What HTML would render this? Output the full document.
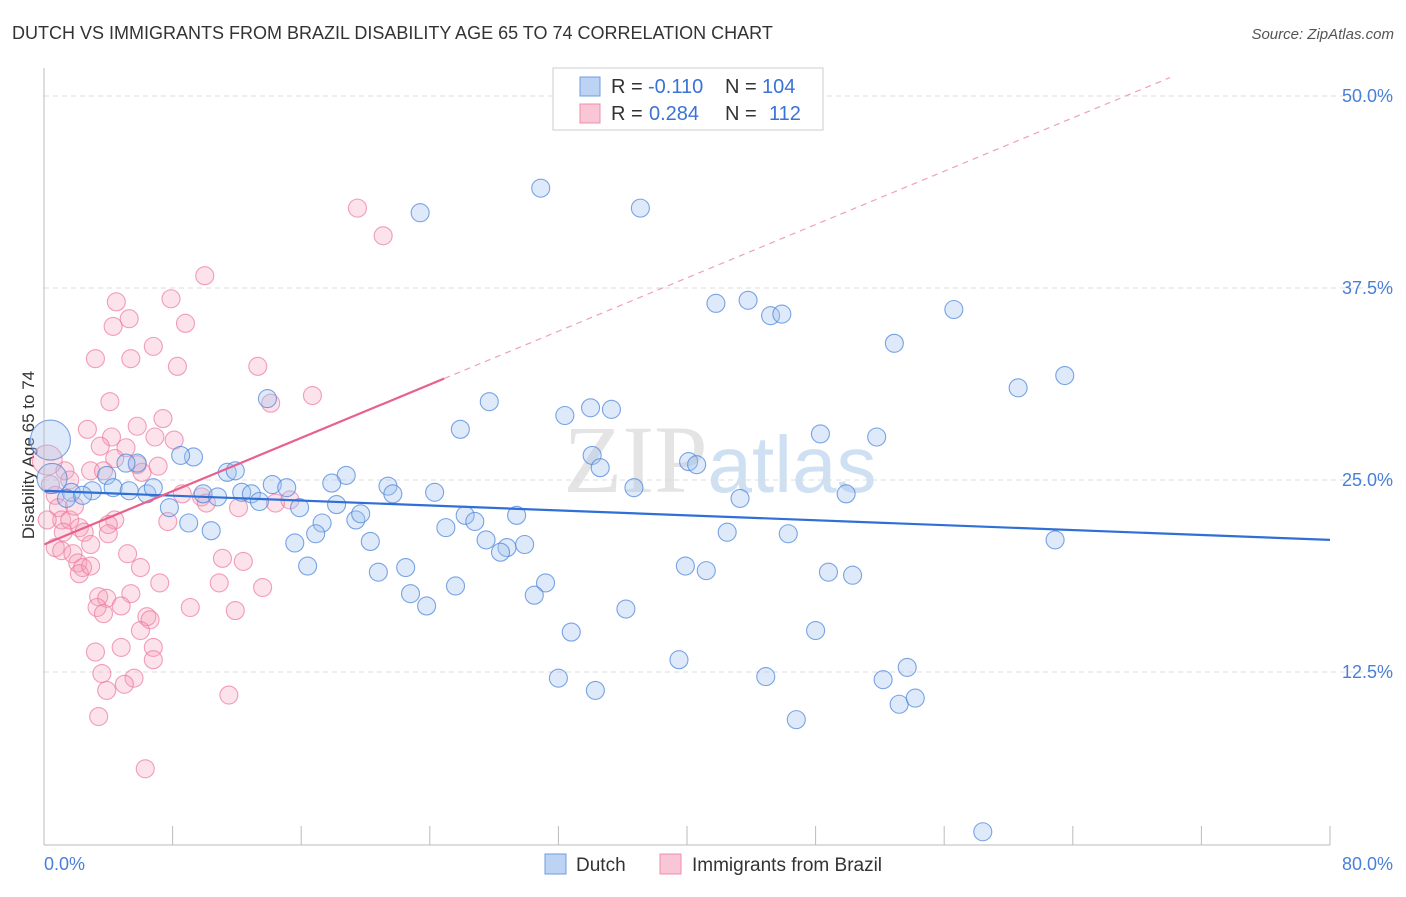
<!DOCTYPE html>
<html><head><meta charset="utf-8"><style>
body{margin:0;background:#fff;font-family:"Liberation Sans",sans-serif;}
</style></head><body>
<svg id="c" width="1406" height="892" xmlns="http://www.w3.org/2000/svg">
<text x="12" y="39" font-size="18" fill="#333">DUTCH VS IMMIGRANTS FROM BRAZIL DISABILITY AGE 65 TO 74 CORRELATION CHART</text>
<text x="1394" y="39" font-size="15" fill="#555" font-style="italic" text-anchor="end">Source: ZipAtlas.com</text>
<text x="720" y="492" font-size="96" fill="#e4e4e4" text-anchor="middle" font-family="Liberation Serif">ZIP<tspan fill="#cfe0f3" font-family="Liberation Sans" font-size="80">atlas</tspan></text>
<text transform="translate(34,455) rotate(-90)" font-size="17" fill="#333" text-anchor="middle">Disability Age 65 to 74</text>
<g id="grid"></g><g id="pts"></g><g id="trend"></g>
<line x1="44" y1="68" x2="44" y2="845" stroke="#bbb"/>
<line x1="44" y1="845" x2="1330" y2="845" stroke="#bbb"/>
<text x="44" y="870" font-size="18" fill="#4a7fd8">0.0%</text>
<text x="1393" y="870" font-size="18" fill="#4a7fd8" text-anchor="end">80.0%</text>
<g>
<rect x="553" y="68" width="270" height="62" fill="#fff" stroke="#ccc"/>
<rect x="580" y="77" width="20" height="19" fill="#bcd3f3" stroke="#6b9ee6"/>
<rect x="580" y="104" width="20" height="19" fill="#f9c6d5" stroke="#ee8fae"/>
<text x="611" y="93" font-size="20" fill="#333">R =</text>
<text x="648" y="93" font-size="20" fill="#3a73d6">-0.110</text>
<text x="725" y="93" font-size="20" fill="#333">N =</text>
<text x="762" y="93" font-size="20" fill="#3a73d6">104</text>
<text x="611" y="120" font-size="20" fill="#333">R =</text>
<text x="649" y="120" font-size="20" fill="#3a73d6">0.284</text>
<text x="725" y="120" font-size="20" fill="#333">N =</text>
<text x="769" y="120" font-size="20" fill="#3a73d6">112</text>
</g>
<g>
<rect x="545" y="854" width="21" height="20" fill="#bcd3f3" stroke="#6b9ee6"/>
<text x="576" y="871" font-size="19" fill="#333">Dutch</text>
<rect x="660" y="854" width="21" height="20" fill="#f9c6d5" stroke="#ee8fae"/>
<text x="692" y="871" font-size="19" fill="#333">Immigrants from Brazil</text>
</g>
</svg>
<script>
const yTicks=[12.5,25,37.5,50];
const yTickLabels=["12.5%","25.0%","37.5%","50.0%"];
const xTicks=[0,8,16,24,32,40,48,56,64,72,80];
const dutchX=[30.9,23.4,37.1,41.8,43.8,45.2,45.9,56.6,52.9,63.5,60.6,13.9,27.7,34.0,35.3,32.4,25.9,48.3,51.8,9.3,8.5,34.1,34.6,40.1,40.6,36.7,43.3,49.9,5.8,5.1,11.4,11.9,18.8,17.9,14.2,15.1,21.4,21.7,24.3,3.9,4.3,5.3,6.4,6.8,1.7,1.4,3.0,2.4,9.9,10.8,12.3,12.9,13.4,15.9,18.2,7.8,9.0,10.4,17.3,16.9,19.4,19.7,26.2,26.8,29.4,25.0,27.5,28.8,28.4,29.9,42.5,46.3,62.9,15.6,20.3,16.4,20.8,22.5,31.2,30.5,25.6,22.8,23.8,36.2,39.9,41.2,48.8,50.3,32.8,48.0,39.5,53.7,32.0,34.3,44.9,52.2,53.2,54.2,46.8,58.4,0.4,0.5];
const dutchY=[44.0,42.4,42.7,36.5,36.7,35.7,35.8,36.1,33.9,31.8,31.0,30.3,30.1,29.7,29.6,29.2,28.3,28.0,27.8,26.5,26.6,26.6,25.8,26.2,26.0,24.5,23.8,24.1,26.1,26.1,25.5,25.6,25.3,24.8,24.7,24.5,24.6,24.1,24.2,25.3,24.5,24.3,24.1,24.5,24.2,23.8,24.3,24.0,24.1,23.9,24.2,24.1,23.6,23.2,23.4,23.2,22.2,21.7,22.2,21.5,22.4,22.8,22.7,22.3,22.7,21.9,21.1,20.6,20.3,20.8,21.6,21.5,21.1,20.9,21.0,19.4,19.0,19.3,18.3,17.5,18.1,17.6,16.8,16.6,19.4,19.1,19.0,18.8,15.1,15.2,13.3,12.8,12.1,11.3,12.2,12.0,10.4,10.8,9.4,2.1,27.6,25.1];
const dutchR=dutchX.map((v,i)=>i>=dutchX.length-2?(i===dutchX.length-2?20:15):9);
const brazilX=[19.5,21.1,10.0,4.5,7.9,8.8,5.3,4.3,6.8,3.2,5.4,13.3,8.3,16.7,14.1,4.1,7.4,5.8,2.7,6.9,8.1,4.2,3.5,5.1,4.4,5.8,7.1,6.1,2.9,3.7,8.6,9.8,10.1,12.1,14.4,15.3,7.7,4.4,4.0,4.0,0.7,0.9,1.1,1.6,1.9,2.2,1.2,2.5,2.9,0.7,1.1,1.8,2.1,2.4,2.2,2.9,5.2,6.0,7.2,11.1,12.4,10.9,13.6,3.4,3.9,5.4,3.3,3.7,4.8,9.1,11.9,6.4,6.6,6.0,3.2,4.8,6.8,6.8,3.6,5.6,3.9,5.0,11.5,3.4,6.3,1.3,1.6,0.4,0.2,0.2];
const brazilY=[42.7,40.9,38.3,36.6,36.8,35.2,35.5,35.0,33.7,32.9,32.9,32.4,32.4,30.5,30.0,30.1,29.0,28.5,28.3,27.8,27.6,27.8,27.2,27.1,26.4,26.0,25.9,25.5,25.6,25.6,24.1,23.9,23.5,23.2,23.5,23.7,22.3,22.4,22.1,21.5,24.0,23.2,22.4,22.4,23.3,21.9,21.6,21.6,20.8,20.6,20.4,20.2,19.6,19.3,18.9,19.4,20.2,19.3,18.3,19.9,19.7,18.3,18.0,17.4,17.3,17.6,16.7,16.3,16.8,16.7,16.5,16.1,15.9,15.2,13.8,14.1,14.1,13.3,12.4,12.1,11.3,11.7,11.0,9.6,6.2,25.6,25.0,24.7,22.4,26.3];
const dutchTrend=[24.3,21.1];
const brazilTrend=[20.8,0.434];
const X=v=>44+v*16.075, Y=v=>864-v*15.36;
const NS="http://www.w3.org/2000/svg";
function mk(t,a,p){const e=document.createElementNS(NS,t);for(const k in a)e.setAttribute(k,a[k]);p.appendChild(e);return e;}
const grid=document.getElementById('grid');
yTicks.forEach((t,i)=>{
 const l=mk('line',{x1:44,x2:1394,y1:Y(t),y2:Y(t),stroke:'#ddd','stroke-dasharray':'5,4'},grid);
 
 
 const tx=mk('text',{x:1393,y:Y(t)+6,'font-size':18,fill:'#4a7fd8','text-anchor':'end'},grid);
 tx.textContent=yTickLabels[i];
 
 
});
xTicks.forEach(t=>{
 const l=mk('line',{x1:X(t),x2:X(t),y1:826,y2:845,stroke:'#bbb'},grid);
 
 
});
const pts=document.getElementById('pts');
brazilX.forEach((x,i)=>{
 const c=mk('circle',{cx:X(x),cy:Y(brazilY[i]),r:i===brazilX.length-1?15:9,fill:'rgba(244,160,186,0.3)',stroke:'rgba(236,120,158,0.7)','stroke-width':1.1},pts);
 
 
});
dutchX.forEach((x,i)=>{
 const c=mk('circle',{cx:X(x),cy:Y(dutchY[i]),r:dutchR[i],fill:'rgba(160,194,238,0.35)',stroke:'rgba(80,135,220,0.75)','stroke-width':1.1},pts);
 
 
});
const tr=document.getElementById('trend');
const d=mk('line',{x1:X(0),y1:Y(dutchTrend[0]),x2:X(80),y2:Y(dutchTrend[1]),stroke:'#2f6fd6','stroke-width':2.2},tr);


const xe=24.9, xd=(51.2-brazilTrend[0])/brazilTrend[1];
const b=mk('line',{x1:X(0),y1:Y(brazilTrend[0]),x2:X(xe),y2:Y(brazilTrend[0]+brazilTrend[1]*xe),stroke:'#e8608c','stroke-width':2.2},tr);


const bd=mk('line',{x1:X(xe),y1:Y(brazilTrend[0]+brazilTrend[1]*xe),x2:X(xd),y2:Y(brazilTrend[0]+brazilTrend[1]*xd),stroke:'#f0a0b8','stroke-width':1.2,'stroke-dasharray':'6,5'},tr);


</script>
</body></html>
